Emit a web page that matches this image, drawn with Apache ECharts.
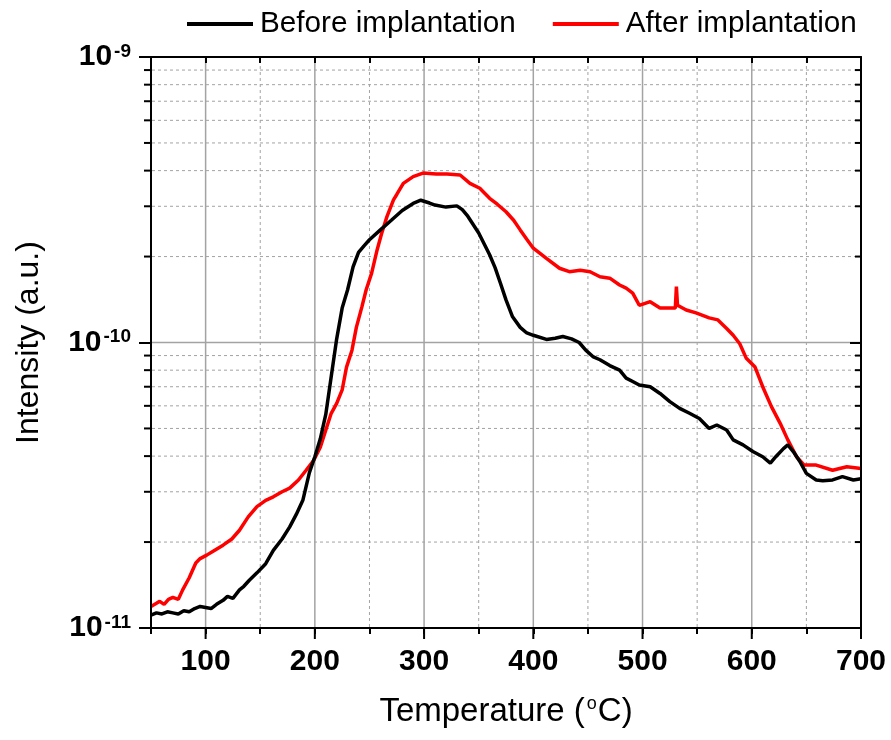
<!DOCTYPE html>
<html><head><meta charset="utf-8">
<script src="https://cdn.jsdelivr.net/npm/echarts@6/dist/echarts.min.js"></script>
<style>html,body{margin:0;padding:0;background:#fff}#c{width:891px;height:740px}</style>
</head><body><div id="c"></div>
<script>
// ---- data ----
const tempBefore = [50,55,60,65,70,75,80,85,90,95,100,105,110,116,120,125,131,135,140,147,155,162,170,177,183,189,195,200,205,210,215,220,225,230,235,240,245,250,260,270,280,290,297,305,310,320,330,335,340,350,360,365,370,375,381,388,394,400,412,420,427,435,442,448,455,461,470,479,485,491,497,507,516,525,534,543,552,561,568,577,583,592,601,610,617,622,629,633,638,644,650,659,665,674,683,693,700];
const intensityBefore = [1.11e-11,1.13e-11,1.12e-11,1.14e-11,1.13e-11,1.12e-11,1.15e-11,1.14e-11,1.17e-11,1.19e-11,1.18e-11,1.17e-11,1.21e-11,1.25e-11,1.29e-11,1.27e-11,1.36e-11,1.40e-11,1.47e-11,1.56e-11,1.68e-11,1.87e-11,2.05e-11,2.26e-11,2.50e-11,2.80e-11,3.5e-11,3.98e-11,4.6e-11,5.6e-11,7.6e-11,10.3e-11,13.2e-11,15.3e-11,18.4e-11,20.7e-11,21.8e-11,22.9e-11,24.8e-11,26.8e-11,29.0e-11,30.7e-11,31.5e-11,30.8e-11,30.3e-11,29.8e-11,30.1e-11,29.2e-11,27.7e-11,24.2e-11,20.3e-11,18.3e-11,16.1e-11,14.1e-11,12.3e-11,11.3e-11,10.8e-11,10.6e-11,10.25e-11,10.35e-11,10.5e-11,10.3e-11,10.0e-11,9.4e-11,8.9e-11,8.7e-11,8.3e-11,8.0e-11,7.5e-11,7.3e-11,7.1e-11,7.0e-11,6.63e-11,6.21e-11,5.88e-11,5.65e-11,5.42e-11,5.0e-11,5.14e-11,4.94e-11,4.56e-11,4.38e-11,4.15e-11,3.98e-11,3.78e-11,3.98e-11,4.25e-11,4.38e-11,4.15e-11,3.83e-11,3.48e-11,3.3e-11,3.28e-11,3.3e-11,3.39e-11,3.3e-11,3.33e-11];
const tempAfter = [50,55,58,62,66,70,75,79,85,91,95,101,108,116,124,131,139,147,155,162,170,177,185,192,199,205,211,215,220,225,229,234,238,243,247,252,257,261,266,272,275,281,290,299,311,321,333,342,351,360,367,375,382,388,394,400,412,424,433,443,452,461,470,479,485,491,497,507,516,526,530,531,532,533,540,549,561,569,577,583,589,595,603,610,618,626,633,641,648,659,674,687,700];
const intensityAfter = [1.19e-11,1.22e-11,1.24e-11,1.21e-11,1.26e-11,1.28e-11,1.26e-11,1.36e-11,1.50e-11,1.69e-11,1.75e-11,1.80e-11,1.87e-11,1.95e-11,2.05e-11,2.2e-11,2.45e-11,2.66e-11,2.8e-11,2.88e-11,3.0e-11,3.09e-11,3.3e-11,3.57e-11,3.87e-11,4.3e-11,5.07e-11,5.65e-11,6.12e-11,6.82e-11,8.2e-11,9.4e-11,11.3e-11,13.3e-11,15.3e-11,17.5e-11,21.1e-11,24.0e-11,27.6e-11,31.6e-11,33.0e-11,36.1e-11,38.1e-11,39.2e-11,38.9e-11,38.9e-11,38.6e-11,36.1e-11,34.7e-11,32.0e-11,30.5e-11,28.7e-11,26.8e-11,24.8e-11,23.0e-11,21.4e-11,19.7e-11,18.2e-11,17.7e-11,17.9e-11,17.7e-11,17.0e-11,16.8e-11,15.9e-11,15.5e-11,14.9e-11,13.5e-11,13.9e-11,13.2e-11,13.2e-11,13.2e-11,15.7e-11,13.5e-11,13.3e-11,13.0e-11,12.7e-11,12.2e-11,12.0e-11,11.2e-11,10.6e-11,9.9e-11,8.8e-11,8.2e-11,7.0e-11,5.96e-11,5.21e-11,4.56e-11,3.98e-11,3.72e-11,3.72e-11,3.57e-11,3.67e-11,3.62e-11];
const seriesNames = ['Before implantation', 'After implantation'];
const xMin = 50, xMax = 700, xStep = 50;
const yMin = 1e-11, yMax = 1e-9;
const xMajorTicks = [100, 200, 300, 400, 500, 600, 700];
const xMinorGrid = [150, 250, 350, 450, 550, 650];
const yMinorTicks = [2e-11,3e-11,4e-11,5e-11,6e-11,7e-11,8e-11,9e-11,2e-10,3e-10,4e-10,5e-10,6e-10,7e-10,8e-10,9e-10];
const yMajorGrid = [1e-10];

// ---- chart ----
const FONT = '"Liberation Sans", Arial, sans-serif';
const GRID_GRAY = '#a3a3a3';
const frameData = []
  .concat(xMinorGrid.map(v => [v, 1e-10, 0]))
  .concat(xMajorTicks.map(v => [v, 1e-10, 1]))
  .concat(yMinorTicks.map(v => [100, v, 2]))
  .concat(yMajorGrid.map(v => [100, v, 3]));

function renderFrame(params, api) {
  const kind = api.value(2);
  const children = [];
  if (kind === 0 || kind === 1) {
    const x = api.value(0);
    const b = api.coord([x, yMin]), t = api.coord([x, yMax]);
    if (kind === 0) {
      children.push({type: 'line', shape: {x1: b[0], y1: b[1] - 1, x2: t[0], y2: t[1] + 1},
        style: {stroke: GRID_GRAY, lineWidth: 1, lineDash: [3, 3]}});
    } else {
      if (x < xMax) children.push({type: 'line', shape: {x1: b[0], y1: b[1] - 1, x2: t[0], y2: t[1] + 1},
        style: {stroke: GRID_GRAY, lineWidth: 1.5}});
      children.push({type: 'line', shape: {x1: b[0], y1: b[1], x2: b[0], y2: b[1] + 11},
        style: {stroke: '#000', lineWidth: 2}});
    }
  } else {
    const y = api.value(1);
    const l = api.coord([xMin, y]), r = api.coord([xMax, y]);
    if (kind === 2) {
      children.push({type: 'line', shape: {x1: l[0] + 1, y1: l[1], x2: r[0] - 1, y2: r[1]},
        style: {stroke: GRID_GRAY, lineWidth: 1, lineDash: [3, 3]}});
      children.push({type: 'line', shape: {x1: l[0] - 7, y1: l[1], x2: l[0], y2: l[1]},
        style: {stroke: '#000', lineWidth: 2}});
      children.push({type: 'line', shape: {x1: r[0] - 6, y1: r[1], x2: r[0], y2: r[1]},
        style: {stroke: '#000', lineWidth: 2}});
    } else {
      children.push({type: 'line', shape: {x1: l[0] + 1, y1: l[1], x2: r[0] - 1, y2: r[1]},
        style: {stroke: GRID_GRAY, lineWidth: 1.5}});
    }
  }
  return {type: 'group', children};
}

const chart = echarts.init(document.getElementById('c'), null, {renderer: 'canvas'});
const axisLineStyle = {show: true, onZero: false, lineStyle: {color: '#000', width: 2}};
chart.setOption({
  animation: false,
  backgroundColor: '#fff',
  textStyle: {fontFamily: FONT},
  grid: {left: 151, right: 30, top: 57, bottom: 112, containLabel: false},
  legend: {
    data: seriesNames, left: 182, top: 4, icon: 'rect', itemWidth: 66, itemHeight: 4, itemGap: 37,
    textStyle: {fontSize: 29.7, color: '#000', fontFamily: FONT, padding: [0, 0, 0, 2]}
  },
  xAxis: [{
    type: 'value', min: xMin, max: xMax, interval: xStep, position: 'bottom', z: 5,
    axisLine: axisLineStyle,
    axisTick: {show: true, inside: false, length: 6, lineStyle: {color: '#000', width: 2}},
    axisLabel: {margin: 19, fontSize: 30, fontWeight: 'bold', color: '#000', fontFamily: FONT,
      formatter: v => (v % 100 === 0 ? String(v) : '')},
    splitLine: {show: false},
    name: '{t|Temperature (}{s|o}{t|C)}', nameLocation: 'middle', nameGap: 67,
    nameTextStyle: {rich: {
      t: {fontSize: 33, color: '#000', fontFamily: FONT, lineHeight: 34},
      s: {fontSize: 18, color: '#000', fontFamily: FONT, verticalAlign: 'top', lineHeight: 18, padding: [0, 1, 0, 2]}
    }}
  }, {
    type: 'value', min: xMin, max: xMax, interval: xStep, position: 'top', z: 5,
    axisLine: axisLineStyle,
    axisTick: {show: true, inside: true, length: 6, lineStyle: {color: '#000', width: 2}},
    axisLabel: {show: false}, splitLine: {show: false}
  }],
  yAxis: [{
    type: 'log', logBase: 10, min: yMin, max: yMax, position: 'left', z: 5,
    axisLine: axisLineStyle,
    axisTick: {show: true, inside: false, length: 12, lineStyle: {color: '#000', width: 2}},
    axisLabel: {margin: 20, formatter: v => {
        const e = Math.round(Math.log10(v));
        return '{b|10}{s|-' + Math.abs(e) + '}';
      },
      rich: {
        b: {fontSize: 30, fontWeight: 'bold', color: '#000', fontFamily: FONT, lineHeight: 30},
        s: {fontSize: 19, fontWeight: 'bold', color: '#000', fontFamily: FONT, verticalAlign: 'top', lineHeight: 16, padding: [0, 0, 0, 2]}
      }},
    splitLine: {show: false},
    name: 'Intensity (a.u.)', nameLocation: 'middle', nameGap: 106,
    nameTextStyle: {fontSize: 32, color: '#000', fontFamily: FONT}
  }, {
    type: 'log', logBase: 10, min: yMin, max: yMax, position: 'right', z: 5,
    axisLine: axisLineStyle,
    axisTick: {show: true, inside: true, length: 11, lineStyle: {color: '#000', width: 2}},
    axisLabel: {show: false}, splitLine: {show: false}
  }],
  series: [{
    type: 'custom', name: 'frame', xAxisIndex: 0, yAxisIndex: 0, z: 1, silent: true,
    encode: {x: 0, y: 1}, data: frameData, renderItem: renderFrame, clip: false
  }, {
    type: 'line', name: seriesNames[0], xAxisIndex: 0, yAxisIndex: 0, z: 3,
    showSymbol: false, symbol: 'none',
    data: tempBefore.map((t, i) => [t, intensityBefore[i]]),
    lineStyle: {color: '#000', width: 3.5}, itemStyle: {color: '#000'}
  }, {
    type: 'line', name: seriesNames[1], xAxisIndex: 0, yAxisIndex: 0, z: 2,
    showSymbol: false, symbol: 'none',
    data: tempAfter.map((t, i) => [t, intensityAfter[i]]),
    lineStyle: {color: '#ff0000', width: 3.5}, itemStyle: {color: '#ff0000'}
  }]
});
</script></body></html>
